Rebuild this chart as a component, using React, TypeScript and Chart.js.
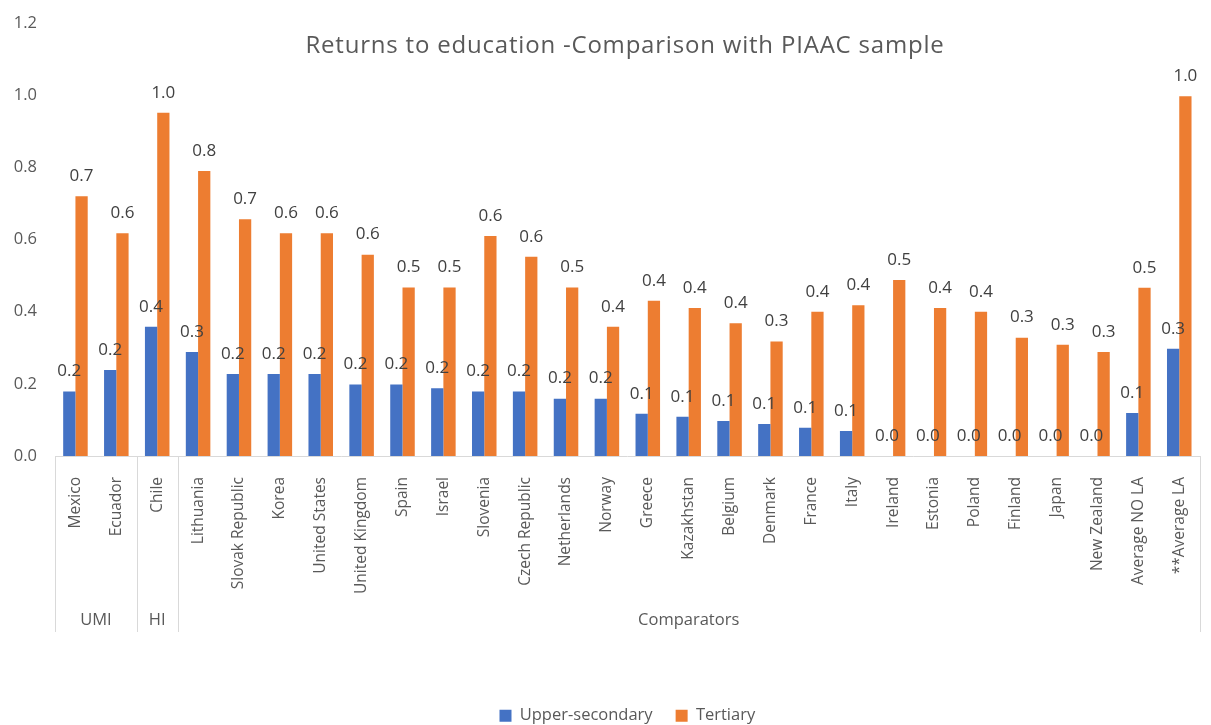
import React, { useEffect, useRef } from "react";
import { Chart, registerables } from "chart.js";

Chart.register(...registerables);

const categories = [
  "Mexico", "Ecuador", "Chile", "Lithuania", "Slovak Republic", "Korea", "United States",
  "United Kingdom", "Spain", "Israel", "Slovenia", "Czech Republic", "Netherlands", "Norway",
  "Greece", "Kazakhstan", "Belgium", "Denmark", "France", "Italy", "Ireland", "Estonia",
  "Poland", "Finland", "Japan", "New Zealand", "Average NO LA", "**Average LA",
];

const upperSecondary = [
  0.179, 0.238, 0.358, 0.288, 0.227, 0.227, 0.227, 0.198, 0.198, 0.188, 0.179, 0.179,
  0.159, 0.159, 0.117, 0.109, 0.097, 0.089, 0.078, 0.069, 0, 0, 0, 0, 0, 0, 0.119, 0.297,
];

const tertiary = [
  0.72, 0.617, 0.951, 0.79, 0.656, 0.617, 0.617, 0.558, 0.467, 0.467, 0.61, 0.552,
  0.467, 0.358, 0.43, 0.41, 0.368, 0.317, 0.4, 0.418, 0.488, 0.41, 0.4, 0.328, 0.308,
  0.288, 0.466, 0.997,
];

const groups = [
  { label: "UMI", start: 0, end: 1 },
  { label: "HI", start: 2, end: 2 },
  { label: "Comparators", start: 3, end: 27 },
];

const yTicks = [0, 0.2, 0.4, 0.6, 0.8, 1.0, 1.2];

const titleText = "Returns to education -Comparison with PIAAC sample";
const FONT = '"Open Sans", "Noto Sans", sans-serif';

const overlayPlugin = {
  id: "overlay",
  afterDatasetsDraw(chart: any) {
    const ctx = chart.ctx;
    ctx.save();
    ctx.font = `17px ${FONT}`;
    ctx.fillStyle = "#404040";
    ctx.textAlign = "center";
    ctx.textBaseline = "middle";
    chart.data.datasets.forEach((ds: any, di: number) => {
      const meta = chart.getDatasetMeta(di);
      meta.data.forEach((bar: any, i: number) => {
        const v = ds.data[i] as number;
        const txt = (Math.round(v * 10) / 10).toFixed(1);
        ctx.fillText(txt, bar.x, bar.y - 20);
      });
    });
    ctx.restore();
  },
  afterDraw(chart: any) {
    const ctx = chart.ctx;
    const area = chart.chartArea;
    const x = chart.scales.x;
    ctx.save();
    // title
    ctx.font = `24px ${FONT}`;
    (ctx as any).letterSpacing = "0.8px";
    ctx.fillStyle = "#595959";
    ctx.textAlign = "center";
    ctx.textBaseline = "middle";
    ctx.fillText(titleText, 625, 46);
    (ctx as any).letterSpacing = "0px";

    // group separators
    const lineBottom = 632;
    ctx.strokeStyle = "#d9d9d9";
    ctx.lineWidth = 1;
    const bounds: number[] = [];
    groups.forEach((g, gi) => {
      const left = g.start === 0 ? area.left : (x.getPixelForValue(g.start - 1) + x.getPixelForValue(g.start)) / 2;
      const right = g.end === categories.length - 1 ? area.right : (x.getPixelForValue(g.end) + x.getPixelForValue(g.end + 1)) / 2;
      if (gi === 0) bounds.push(left);
      bounds.push(right);
      ctx.font = `16.5px ${FONT}`;
      ctx.fillStyle = "#595959";
      ctx.fillText(g.label, (left + right) / 2, 620);
    });
    bounds.forEach((b) => {
      const px = Math.round(b) + 0.5;
      ctx.beginPath();
      ctx.moveTo(px, area.bottom);
      ctx.lineTo(px, lineBottom);
      ctx.stroke();
    });
    ctx.restore();
  },
};

export default function App() {
  const ref = useRef<HTMLCanvasElement | null>(null);
  useEffect(() => {
    if (!ref.current) return;
    const chart = new Chart(ref.current, {
      type: "bar",
      data: {
        labels: categories,
        datasets: [
          { label: "Upper-secondary", data: upperSecondary, backgroundColor: "#4472C4" },
          { label: "Tertiary", data: tertiary, backgroundColor: "#ED7D31" },
        ],
      },
      options: {
        animation: false,
        responsive: false,
        layout: { padding: { top: 23, right: 8, left: 0, bottom: -9 } },
        datasets: { bar: { categoryPercentage: 0.6, barPercentage: 1 } },
        scales: {
          x: {
            grid: { display: false },
            border: { display: true, color: "#d9d9d9" },
            ticks: {
              autoSkip: false,
              maxRotation: 90,
              minRotation: 90,
              padding: 13,
              color: "#595959",
              font: { family: FONT, size: 15.5 },
            },
            afterFit: (scale: any) => {
              scale.height = 228.5;
            },
          },
          y: {
            min: 0,
            max: 1.2,
            grid: { display: false },
            border: { display: false },
            afterBuildTicks: (scale: any) => {
              scale.ticks = yTicks.map((v) => ({ value: v }));
            },
            ticks: {
              padding: 10,
              color: "#595959",
              font: { family: FONT, size: 16.5 },
              callback: (v: any) => Number(v).toFixed(1),
            },
            afterFit: (scale: any) => {
              scale.width = 55;
            },
          },
        },
        plugins: {
          title: { display: false },
          tooltip: { enabled: false },
          legend: {
            position: "bottom",
            fullSize: false,
            labels: {
              boxWidth: 12,
              boxHeight: 12,
              padding: 23,
              color: "#595959",
              font: { family: FONT, size: 16.5 },
            },
          },
        },
      },
      plugins: [overlayPlugin],
    });
    return () => chart.destroy();
  }, []);
  return (
    <div style={{ position: "fixed", left: 0, top: 0, width: 1211, height: 725, background: "#fff" }}>
      <canvas ref={ref} width={1211} height={725} style={{ display: "block" }} />
    </div>
  );
}
